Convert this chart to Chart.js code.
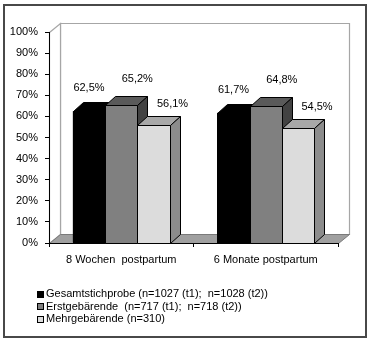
<!DOCTYPE html>
<html><head><meta charset="utf-8">
<script src="https://cdn.jsdelivr.net/npm/chart.js@4/dist/chart.umd.min.js"></script>
<style>html,body{margin:0;padding:0;background:#fff;}#wrap{width:370px;height:342px;}</style>
</head><body><div id="wrap"><canvas id="c" width="370" height="342"></canvas></div>
<script>
const categories = ['8 Wochen  postpartum', '6 Monate postpartum'];
const seriesNames = ['Gesamtstichprobe (n=1027 (t1);  n=1028 (t2))', 'Erstgebärende  (n=717 (t1);  n=718 (t2))', 'Mehrgebärende (n=310)'];
const gesamt = [62.5, 61.7];
const erst = [65.2, 64.8];
const mehr = [56.1, 54.5];
const yTickValues = [0, 10, 20, 30, 40, 50, 60, 70, 80, 90, 100];

const FONT = '"Liberation Sans", Arial, sans-serif';
const STYLE = [
  {front:'#000000', top:'#000000', side:'#000000', ldx:0,  ldy:-23},
  {front:'#808080', top:'#5a5a5a', side:'#424242', ldx:16, ldy:-26},
  {front:'#dcdcdc', top:'#a8a8a8', side:'#8c8c8c', ldx:19, ldy:-21}
];
const BAR_DX = 10, BAR_DY = 9, WALL_DX = 11, WALL_DY = 9;

function poly(ctx, pts, fill, stroke, lw) {
  ctx.beginPath();
  pts.forEach((p, i) => i ? ctx.lineTo(p[0], p[1]) : ctx.moveTo(p[0], p[1]));
  ctx.closePath();
  if (fill) { ctx.fillStyle = fill; ctx.fill(); }
  if (stroke) { ctx.strokeStyle = stroke; ctx.lineWidth = lw || 1; ctx.stroke(); }
}
function fmt(v) { return v.toFixed(1).replace('.', ',') + '%'; }

const threeD = {
  id: 'threeD',
  beforeDraw(chart) {
    const ctx = chart.ctx, a = chart.chartArea;
    ctx.save();
    ctx.fillStyle = '#fff'; ctx.fillRect(0, 0, chart.width, chart.height);
    ctx.strokeStyle = '#484848'; ctx.lineWidth = 2;
    ctx.strokeRect(4, 5, 362, 332);
    const L = Math.round(a.left) + .5, R = Math.round(a.right) + .5, T = Math.round(a.top) + .5, B = Math.round(a.bottom) + .5;
    // back wall
    poly(ctx, [[L+WALL_DX, T-WALL_DY], [R+WALL_DX, T-WALL_DY], [R+WALL_DX, B-WALL_DY], [L+WALL_DX, B-WALL_DY]], '#fff', '#a6a6a6', 1.2);
    // side wall
    poly(ctx, [[L, T], [L+WALL_DX, T-WALL_DY], [L+WALL_DX, B-WALL_DY], [L, B]], '#fff', '#a6a6a6', 1.2);
    // floor
    poly(ctx, [[L, B], [L+WALL_DX, B-WALL_DY], [R+WALL_DX, B-WALL_DY], [R, B]], '#a0a0a0', '#7a7a7a', 1);
    ctx.restore();
  },
  afterDatasetsDraw(chart) {
    const ctx = chart.ctx;
    ctx.save();
    ctx.lineJoin = 'miter';
    chart.data.datasets.forEach((ds, i) => {
      const st = STYLE[i];
      chart.getDatasetMeta(i).data.forEach(el => {
        const p = el.getProps(['x', 'y', 'base', 'width'], true);
        const x0 = Math.round(p.x - p.width / 2) + .5, x1 = Math.round(p.x + p.width / 2) + .5;
        const yt = Math.round(p.y) + .5, yb = Math.round(p.base) + .5;
        poly(ctx, [[x0, yt], [x1, yt], [x1, yb], [x0, yb]], st.front, '#000', 1);
        poly(ctx, [[x0, yt], [x0+BAR_DX, yt-BAR_DY], [x1+BAR_DX, yt-BAR_DY], [x1, yt]], st.top, '#000', 1);
        poly(ctx, [[x1, yt], [x1+BAR_DX, yt-BAR_DY], [x1+BAR_DX, yb-BAR_DY], [x1, yb]], st.side, '#000', 1);
      });
    });
    ctx.font = '11px ' + FONT;
    ctx.fillStyle = '#000';
    ctx.textAlign = 'center';
    ctx.textBaseline = 'middle';
    chart.data.datasets.forEach((ds, i) => {
      const st = STYLE[i];
      chart.getDatasetMeta(i).data.forEach((el, j) => {
        const p = el.getProps(['x', 'y'], true);
        ctx.fillText(fmt(ds.data[j]), p.x + st.ldx, p.y + st.ldy);
      });
    });
    ctx.restore();
  },
  afterDraw(chart) {
    const ctx = chart.ctx;
    ctx.save();
    ctx.font = '11px ' + FONT;
    ctx.textAlign = 'left';
    ctx.textBaseline = 'middle';
    const rows = [294, 306.5, 319];
    chart.data.datasets.forEach((ds, i) => {
      const cy = rows[i];
      ctx.fillStyle = STYLE[i].front;
      ctx.fillRect(37, Math.round(cy - 3.5), 7, 7);
      ctx.strokeStyle = '#000'; ctx.lineWidth = 1;
      ctx.strokeRect(37.5, Math.round(cy - 3.5) + .5, 6, 6);
      ctx.fillStyle = '#000';
      ctx.fillText(ds.label, 46, cy);
    });
    ctx.restore();
  }
};

new Chart(document.getElementById('c'), {
  type: 'bar',
  data: {
    labels: categories,
    datasets: [
      {label: seriesNames[0], data: gesamt, backgroundColor: STYLE[0].front},
      {label: seriesNames[1], data: erst, backgroundColor: STYLE[1].front},
      {label: seriesNames[2], data: mehr, backgroundColor: STYLE[2].front}
    ]
  },
  options: {
    responsive: false,
    animation: false,
    devicePixelRatio: 1,
    events: [],
    layout: {padding: {left: 4, top: 32, right: 32, bottom: 69}},
    datasets: {bar: {categoryPercentage: 0.67, barPercentage: 1.0}},
    plugins: {legend: {display: false}, tooltip: {enabled: false}},
    scales: {
      x: {
        afterFit: s => { s.height = 30; },
        grid: {offset: true, drawOnChartArea: false, drawTicks: true, tickLength: 4, color: '#000'},
        border: {display: true, color: '#000', width: 1},
        ticks: {font: {family: FONT, size: 11}, color: '#000', padding: 6.5, maxRotation: 0}
      },
      y: {
        min: 0, max: 100,
        afterFit: s => { s.width = 45; },
        afterBuildTicks: s => { s.ticks = yTickValues.map(v => ({value: v})); },
        grid: {drawOnChartArea: false, drawTicks: true, tickLength: 4, color: '#000'},
        border: {display: true, color: '#000', width: 1},
        ticks: {font: {family: FONT, size: 11}, color: '#000', padding: 7, callback: v => v + '%'}
      }
    }
  },
  plugins: [threeD]
});
</script></body></html>
